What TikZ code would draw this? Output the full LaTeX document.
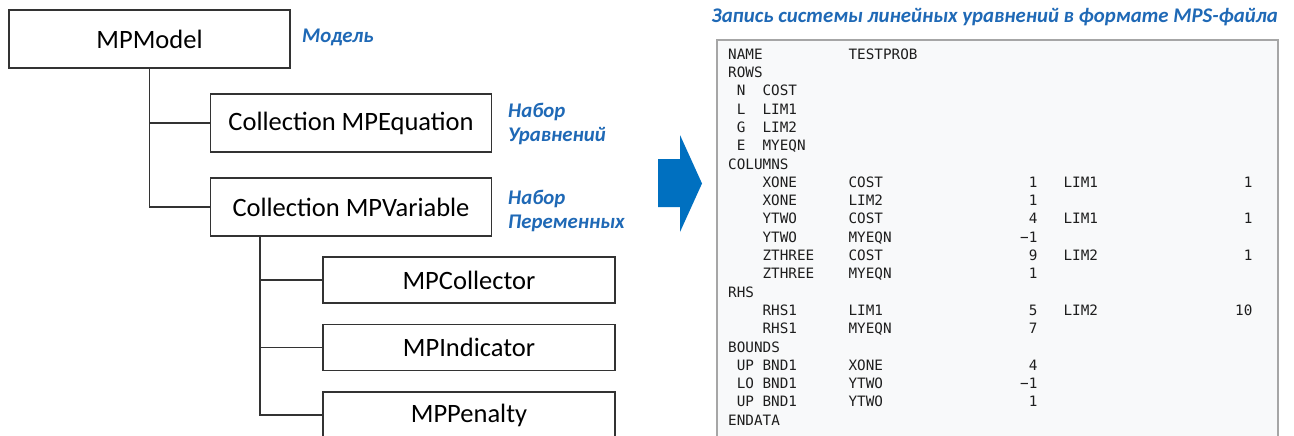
\documentclass[tikz,border=0pt]{standalone}
\usepackage{fontspec}
\setmainfont{Carlito}
\newfontfamily\codefont{DejaVu Sans Mono}
\definecolor{arrowblue}{HTML}{0070C0}
\definecolor{labelblue}{RGB}{31,105,182}
\definecolor{codefill}{HTML}{F8F9FA}
\definecolor{codeborder}{HTML}{A6A6A6}
\definecolor{codetext}{HTML}{1E1E1E}
\newcommand{\mL}[4]{\node[codetxt, anchor=base west] (#1) at ({728+#2*8.6},{54+#3*18.3+5.2}) {#4};}
\newcommand{\mR}[4]{\node[codetxt, anchor=base east] (#1) at ({728+#2*8.6},{54+#3*18.3+5.2}) {#4};}
\begin{document}
\begin{tikzpicture}[x=1pt,y=-1pt,
  classbox/.style={draw=black!80, line width=1.3pt, fill=white, inner sep=0pt,
    font=\fontsize{26.5}{30}\selectfont, text=black},
  bigbox/.style={classbox, minimum width=281pt, minimum height=58pt},
  smallbox/.style={classbox, minimum width=292pt, minimum height=46pt},
  conn/.style={draw=black!80, line width=1.3pt},
  bluelabel/.style={anchor=west, inner sep=0pt, align=left, text=labelblue,
    font=\fontsize{20.8}{24}\selectfont\bfseries\itshape},
  codetxt/.style={inner sep=0pt, text=codetext, font=\codefont\fontsize{14.3}{17}\selectfont}]
\clip (0,0) rectangle (1294,436);
\fill[white] (0,0) rectangle (1294,436);

% tree
\node[bigbox] (model) at (149.5,39) {MPModel};
\node[bigbox] (eq) at (351,123) {Collection MPEquation};
\node[bigbox] (var) at (351,207) {Collection MPVariable};
\node[smallbox] (coll) at (469,280) {MPCollector};
\node[smallbox] (ind) at (469,347.5) {MPIndicator};
\node[smallbox] (pen) at (469,415) {MPPenalty};

\coordinate (vtop) at ([xshift=50pt]var.south west);
\draw[conn] (model.south) |- (var.west);
\draw[conn] (model.south |- eq.west) -- (eq.west);
\draw[conn] (vtop) |- (pen.west);
\draw[conn] (vtop |- coll.west) -- (coll.west);
\draw[conn] (vtop |- ind.west) -- (ind.west);

\node[bluelabel] (lmodel) at (302,37) {Модель};
\node[bluelabel] (leq) at (508,123.5) {Набор\\Уравнений};
\node[bluelabel] (lvar) at (508,210.5) {Набор\\Переменных};

% title
\node[bluelabel, anchor=east] (title) at (1278,17) {Запись системы линейных уравнений в формате MPS-файла};

% arrow
\fill[arrowblue] (658,159) -- (680,159) -- (680,135) -- (702,183.5) -- (680,232) -- (680,207) -- (658,207) -- cycle;

% MPS box
\draw[codeborder, fill=codefill, line width=1.4pt] (717,40) rectangle (1278,460);

\mL{a0}{0}{0}{NAME} \mL{b0}{14}{0}{TESTPROB}
\mL{a1}{0}{1}{ROWS}
\mL{a2}{1}{2}{N} \mL{b2}{4}{2}{COST}
\mL{a3}{1}{3}{L} \mL{b3}{4}{3}{LIM1}
\mL{a4}{1}{4}{G} \mL{b4}{4}{4}{LIM2}
\mL{a5}{1}{5}{E} \mL{b5}{4}{5}{MYEQN}
\mL{a6}{0}{6}{COLUMNS}
\mL{a7}{4}{7}{XONE} \mL{b7}{14}{7}{COST} \mR{c7}{36}{7}{1} \mL{d7}{39}{7}{LIM1} \mR{e7}{61}{7}{1}
\mL{a8}{4}{8}{XONE} \mL{b8}{14}{8}{LIM2} \mR{c8}{36}{8}{1}
\mL{a9}{4}{9}{YTWO} \mL{b9}{14}{9}{COST} \mR{c9}{36}{9}{4} \mL{d9}{39}{9}{LIM1} \mR{e9}{61}{9}{1}
\mL{a10}{4}{10}{YTWO} \mL{b10}{14}{10}{MYEQN} \mR{c10}{36}{10}{−1}
\mL{a11}{4}{11}{ZTHREE} \mL{b11}{14}{11}{COST} \mR{c11}{36}{11}{9} \mL{d11}{39}{11}{LIM2} \mR{e11}{61}{11}{1}
\mL{a12}{4}{12}{ZTHREE} \mL{b12}{14}{12}{MYEQN} \mR{c12}{36}{12}{1}
\mL{a13}{0}{13}{RHS}
\mL{a14}{4}{14}{RHS1} \mL{b14}{14}{14}{LIM1} \mR{c14}{36}{14}{5} \mL{d14}{39}{14}{LIM2} \mR{e14}{61}{14}{10}
\mL{a15}{4}{15}{RHS1} \mL{b15}{14}{15}{MYEQN} \mR{c15}{36}{15}{7}
\mL{a16}{0}{16}{BOUNDS}
\mL{a17}{1}{17}{UP} \mL{b17}{4}{17}{BND1} \mL{c17}{14}{17}{XONE} \mR{d17}{36}{17}{4}
\mL{a18}{1}{18}{LO} \mL{b18}{4}{18}{BND1} \mL{c18}{14}{18}{YTWO} \mR{d18}{36}{18}{−1}
\mL{a19}{1}{19}{UP} \mL{b19}{4}{19}{BND1} \mL{c19}{14}{19}{YTWO} \mR{d19}{36}{19}{1}
\mL{a20}{0}{20}{ENDATA}
\end{tikzpicture}
\end{document}
